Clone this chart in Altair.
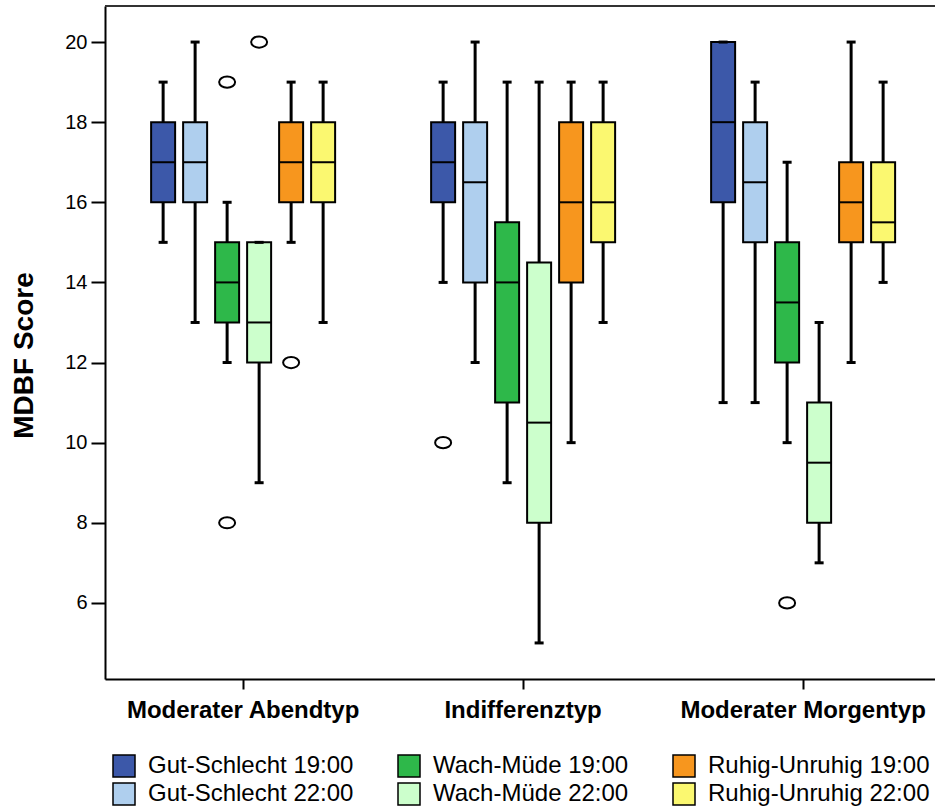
import altair as alt
import pandas as pd

# Chronotype groups on the x axis
groups = ["Moderater Abendtyp", "Indifferenztyp", "Moderater Morgentyp"]

# MDBF subscales at two times of day
series = [
    "Gut-Schlecht 19:00", "Gut-Schlecht 22:00",
    "Wach-Müde 19:00", "Wach-Müde 22:00",
    "Ruhig-Unruhig 19:00", "Ruhig-Unruhig 22:00",
]

# Legend order (row-wise, three columns) and matching fill colours
legend_order = [
    "Gut-Schlecht 19:00", "Wach-Müde 19:00", "Ruhig-Unruhig 19:00",
    "Gut-Schlecht 22:00", "Wach-Müde 22:00", "Ruhig-Unruhig 22:00",
]
legend_colors = ["#3C58A9", "#2EB84A", "#F7961E", "#AFCFEE", "#CCFFCC", "#FBF870"]

# Box statistics, one list per group, entries in `series` order
whisker_low = [
    [15, 13, 12, 9, 15, 13],
    [14, 12, 9, 5, 10, 13],
    [11, 11, 10, 7, 12, 14],
]
q1 = [
    [16, 16, 13, 12, 16, 16],
    [16, 14, 11, 8, 14, 15],
    [16, 15, 12, 8, 15, 15],
]
median = [
    [17, 17, 14, 13, 17, 17],
    [17, 16.5, 14, 10.5, 16, 16],
    [18, 16.5, 13.5, 9.5, 16, 15.5],
]
q3 = [
    [18, 18, 15, 15, 18, 18],
    [18, 18, 15.5, 14.5, 18, 18],
    [20, 18, 15, 11, 17, 17],
]
whisker_high = [
    [19, 20, 16, 15, 19, 19],
    [19, 20, 19, 19, 19, 19],
    [20, 19, 17, 13, 20, 19],
]

# Outliers: group, series, value
outlier_group = ["Moderater Abendtyp", "Moderater Abendtyp", "Moderater Abendtyp",
                 "Moderater Abendtyp", "Indifferenztyp", "Moderater Morgentyp"]
outlier_series = ["Wach-Müde 19:00", "Wach-Müde 19:00", "Wach-Müde 22:00",
                  "Ruhig-Unruhig 19:00", "Gut-Schlecht 19:00", "Wach-Müde 19:00"]
outlier_value = [19, 8, 20, 12, 10, 6]

rows = []
for gi, g in enumerate(groups):
    for si, s in enumerate(series):
        rows.append({
            "group": g, "series": s,
            "lo": whisker_low[gi][si], "q1": q1[gi][si], "med": median[gi][si],
            "q3": q3[gi][si], "hi": whisker_high[gi][si],
        })
stats = pd.DataFrame(rows)
outliers = pd.DataFrame({"group": outlier_group, "series": outlier_series,
                         "value": outlier_value})

FONT = "Liberation Sans"
W, H = 830, 673

# flat open ellipse for outliers
ELLIPSE = "M -1 0 A 1 0.7 0 1 0 1 0 A 1 0.7 0 1 0 -1 0 Z"

x_enc = alt.X(
    "group:N", sort=groups, title=None,
    scale=alt.Scale(paddingInner=0.3143, paddingOuter=0.1393, align=0.54),
    axis=alt.Axis(labelFont=FONT, labelFontSize=24, labelFontWeight="bold",
                  labelColor="black", labelAngle=0, labelPadding=9, labelLimit=0,
                  tickSize=10, tickWidth=2, tickColor="black",
                  domainColor="black", domainWidth=2),
)
xoff = alt.XOffset("series:N", sort=series, scale=alt.Scale(paddingInner=0, paddingOuter=0))
y_scale = alt.Scale(domain=[4.1, 20.9], nice=False, zero=False)
y_axis = alt.Axis(values=[6, 8, 10, 12, 14, 16, 18, 20], grid=False,
                  labelFont=FONT, labelFontSize=20, labelColor="black", labelPadding=4,
                  tickSize=14, tickWidth=2, tickColor="black",
                  domainColor="black", domainWidth=2,
                  title="MDBF Score", titleFont=FONT, titleFontSize=28,
                  titleFontWeight="bold", titleColor="black",
                  titleX=-67, titleY=349)

base = alt.Chart(stats)

whiskers = base.mark_rule(color="black", strokeWidth=3).encode(
    x=x_enc, xOffset=xoff,
    y=alt.Y("lo:Q", scale=y_scale, axis=y_axis),
    y2="hi:Q",
)

boxes = base.mark_bar(size=24, stroke="black", strokeWidth=2).encode(
    x=x_enc, xOffset=xoff,
    y=alt.Y("q1:Q", scale=y_scale),
    y2="q3:Q",
    fill=alt.Fill("series:N", sort=legend_order,
                  scale=alt.Scale(domain=legend_order, range=legend_colors),
                  legend=alt.Legend(
                      title=None, orient="none", legendX=7, legendY=748,
                      columns=3, direction="horizontal",
                      symbolType="square", symbolSize=484,
                      symbolStrokeColor="black", symbolStrokeWidth=1.5,
                      labelFont=FONT, labelFontSize=24, labelColor="black",
                      labelOffset=12, columnPadding=41, rowPadding=0,
                      padding=0, labelLimit=400)),
)

medians = base.mark_tick(color="black", size=24, thickness=2, opacity=1).encode(
    x=x_enc, xOffset=xoff, y=alt.Y("med:Q", scale=y_scale),
)

caps_lo = base.mark_tick(color="black", size=9, thickness=3, opacity=1).encode(
    x=x_enc, xOffset=xoff, y=alt.Y("lo:Q", scale=y_scale),
)
caps_hi = base.mark_tick(color="black", size=9, thickness=3, opacity=1).encode(
    x=x_enc, xOffset=xoff, y=alt.Y("hi:Q", scale=y_scale),
)

points = alt.Chart(outliers).mark_point(
    shape=ELLIPSE, filled=False, color="black", strokeWidth=2, size=256, opacity=1
).encode(
    x=x_enc, xOffset=xoff, y=alt.Y("value:Q", scale=y_scale),
)

top_line = alt.Chart(stats).mark_rule(color="#333333", strokeWidth=1).encode(
    x=alt.value(0), x2=alt.value(W), y=alt.value(0),
)

chart = alt.layer(whiskers, boxes, medians, caps_lo, caps_hi, points, top_line).properties(
    width=W, height=H,
    autosize=alt.AutoSizeParams(type="none"),
    padding={"left": 105, "top": 6, "right": 0, "bottom": 131},
).configure_view(
    fill="#F0F0F0", stroke=None,
).configure(background="white")

chart.save("out.html", embed_options={"renderer": "svg", "actions": False})
